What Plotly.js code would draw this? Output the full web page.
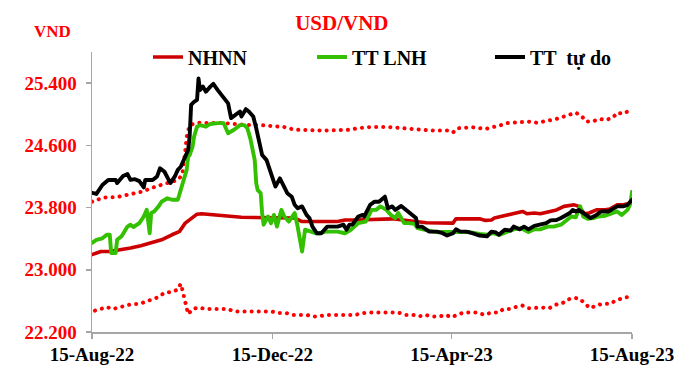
<!DOCTYPE html>
<html>
<head>
<meta charset="utf-8">
<script src="https://cdn.plot.ly/plotly-3.0.1.min.js"></script>
<style>
  html, body { margin: 0; padding: 0; background: #fff; }
  #chart { width: 692px; height: 380px; }
  .scatterlayer .js-line { stroke-linecap: round; stroke-linejoin: round; }
</style>
</head>
<body>
<div id="chart"></div>
<script>
// ---- Data ----
const nhnnDates = ["2022-08-15","2022-08-21","2022-08-27","2022-09-03","2022-09-10","2022-09-17","2022-09-24","2022-10-01","2022-10-08","2022-10-13","2022-10-17","2022-10-21","2022-10-25","2022-10-28","2022-11-08","2022-11-17","2022-11-24","2022-12-30","2023-01-04","2023-01-28","2023-02-02","2023-02-09","2023-03-06","2023-03-29","2023-04-16","2023-04-18","2023-05-04","2023-05-08","2023-05-12","2023-05-14","2023-05-18","2023-05-23","2023-05-27","2023-06-02","2023-06-05","2023-06-10","2023-06-14","2023-06-20","2023-06-25","2023-06-30","2023-07-07","2023-07-10","2023-07-14","2023-07-17","2023-07-22","2023-07-28","2023-07-31","2023-08-05","2023-08-09","2023-08-14","2023-08-15"];
const nhnnValues = [23195,23235,23235,23255,23280,23310,23345,23385,23450,23490,23600,23665,23715,23720,23705,23685,23675,23665,23620,23620,23640,23640,23655,23605,23600,23655,23655,23635,23640,23665,23685,23705,23720,23750,23720,23730,23720,23750,23770,23815,23835,23815,23720,23730,23770,23770,23780,23835,23835,23855,23875];

const lnhDates = ["2022-08-15","2022-08-18","2022-08-22","2022-08-25","2022-08-27","2022-08-28","2022-08-31","2022-09-01","2022-09-04","2022-09-08","2022-09-10","2022-09-12","2022-09-16","2022-09-19","2022-09-21","2022-09-23","2022-09-24","2022-09-26","2022-09-29","2022-10-01","2022-10-05","2022-10-08","2022-10-12","2022-10-14","2022-10-16","2022-10-17","2022-10-18","2022-10-19","2022-10-20","2022-10-22","2022-10-23","2022-10-25","2022-10-27","2022-10-31","2022-11-03","2022-11-08","2022-11-12","2022-11-15","2022-11-19","2022-11-23","2022-11-26","2022-11-28","2022-11-30","2022-12-03","2022-12-04","2022-12-05","2022-12-07","2022-12-08","2022-12-09","2022-12-12","2022-12-14","2022-12-16","2022-12-18","2022-12-21","2022-12-23","2022-12-26","2022-12-30","2023-01-01","2023-01-04","2023-01-06","2023-01-09","2023-01-13","2023-01-16","2023-01-20","2023-01-24","2023-01-28","2023-02-02","2023-02-06","2023-02-11","2023-02-15","2023-02-16","2023-02-20","2023-02-23","2023-02-26","2023-03-02","2023-03-05","2023-03-08","2023-03-10","2023-03-14","2023-03-17","2023-03-21","2023-03-23","2023-03-26","2023-03-31","2023-04-05","2023-04-11","2023-04-16","2023-04-20","2023-04-27","2023-05-04","2023-05-09","2023-05-13","2023-05-17","2023-05-19","2023-05-23","2023-05-27","2023-06-01","2023-06-06","2023-06-10","2023-06-14","2023-06-19","2023-06-23","2023-06-28","2023-07-02","2023-07-05","2023-07-08","2023-07-11","2023-07-13","2023-07-16","2023-07-20","2023-07-23","2023-07-28","2023-08-01","2023-08-05","2023-08-08","2023-08-12","2023-08-14","2023-08-15"];
const lnhValues = [23345,23385,23405,23450,23450,23215,23215,23385,23430,23555,23580,23550,23600,23685,23770,23470,23730,23750,23815,23875,23920,23900,23900,24025,24135,24200,24285,24455,24475,24585,24710,24840,24860,24840,24875,24885,24885,24755,24800,24860,24860,24820,24690,24410,24115,24025,23985,23730,23580,23685,23600,23705,23555,23770,23685,23620,23730,23555,23235,23515,23490,23470,23470,23490,23490,23490,23470,23515,23600,23620,23620,23770,23770,23815,23770,23705,23665,23730,23600,23600,23590,23535,23520,23500,23485,23485,23485,23490,23485,23460,23450,23470,23450,23460,23490,23520,23535,23485,23520,23520,23555,23555,23580,23640,23685,23675,23815,23685,23655,23665,23685,23695,23720,23750,23705,23770,23855,24005];

const freeDates = ["2022-08-15","2022-08-18","2022-08-22","2022-08-26","2022-08-31","2022-09-01","2022-09-05","2022-09-08","2022-09-10","2022-09-13","2022-09-16","2022-09-19","2022-09-20","2022-09-25","2022-09-28","2022-09-30","2022-10-03","2022-10-05","2022-10-07","2022-10-10","2022-10-12","2022-10-14","2022-10-17","2022-10-19","2022-10-20","2022-10-21","2022-10-23","2022-10-25","2022-10-26","2022-10-27","2022-10-29","2022-10-31","2022-11-03","2022-11-05","2022-11-08","2022-11-11","2022-11-15","2022-11-17","2022-11-20","2022-11-23","2022-11-24","2022-11-27","2022-11-29","2022-12-02","2022-12-04","2022-12-06","2022-12-08","2022-12-11","2022-12-13","2022-12-15","2022-12-17","2022-12-20","2022-12-23","2022-12-25","2022-12-28","2022-12-30","2023-01-01","2023-01-04","2023-01-07","2023-01-09","2023-01-11","2023-01-14","2023-01-17","2023-01-21","2023-01-24","2023-01-28","2023-02-01","2023-02-03","2023-02-05","2023-02-07","2023-02-11","2023-02-14","2023-02-15","2023-02-19","2023-02-22","2023-02-25","2023-03-01","2023-03-03","2023-03-06","2023-03-08","2023-03-12","2023-03-15","2023-03-18","2023-03-22","2023-03-23","2023-03-26","2023-03-31","2023-04-05","2023-04-09","2023-04-12","2023-04-16","2023-04-18","2023-04-21","2023-04-25","2023-04-29","2023-05-04","2023-05-09","2023-05-12","2023-05-15","2023-05-17","2023-05-21","2023-05-25","2023-05-27","2023-05-31","2023-06-03","2023-06-06","2023-06-10","2023-06-14","2023-06-18","2023-06-21","2023-06-25","2023-06-28","2023-07-02","2023-07-04","2023-07-06","2023-07-08","2023-07-10","2023-07-13","2023-07-16","2023-07-18","2023-07-22","2023-07-25","2023-07-30","2023-08-02","2023-08-05","2023-08-09","2023-08-12","2023-08-15"];
const freeValues = [23990,23975,24090,24155,24155,24115,24205,24230,24155,24165,24140,24060,24155,24155,24200,24305,24260,24175,24115,24200,24285,24325,24455,24540,24710,25120,25160,25185,25460,25310,25355,25290,25355,25390,25310,25245,25140,24950,24990,25035,24970,25065,25035,24970,24820,24670,24475,24410,24305,24200,24070,24175,24070,23985,23940,23835,23790,23815,23705,23665,23555,23470,23470,23555,23555,23555,23580,23515,23580,23580,23685,23705,23685,23835,23875,23875,23940,23790,23815,23770,23820,23770,23730,23665,23555,23555,23490,23490,23470,23440,23470,23520,23490,23490,23470,23440,23430,23490,23480,23450,23515,23505,23555,23520,23555,23520,23565,23580,23600,23635,23640,23665,23705,23730,23770,23750,23770,23730,23685,23665,23705,23750,23750,23790,23815,23815,23835,23900];

const upperDates = ["2022-08-15","2022-08-23","2022-09-01","2022-09-09","2022-09-18","2022-09-27","2022-10-05","2022-10-12","2022-10-15","2022-10-16","2022-10-17","2022-10-18","2022-10-20","2022-10-25","2022-11-03","2022-11-13","2022-11-28","2022-12-07","2022-12-23","2022-12-30","2023-01-20","2023-01-31","2023-02-05","2023-02-11","2023-02-19","2023-03-04","2023-03-14","2023-03-23","2023-04-02","2023-04-12","2023-04-16","2023-04-19","2023-04-24","2023-04-28","2023-05-04","2023-05-08","2023-05-13","2023-05-17","2023-05-22","2023-05-26","2023-05-31","2023-06-06","2023-06-12","2023-06-17","2023-06-21","2023-06-25","2023-06-30","2023-07-04","2023-07-08","2023-07-12","2023-07-15","2023-07-19","2023-07-24","2023-07-28","2023-08-02","2023-08-05","2023-08-09","2023-08-13"];
const upperValues = [23875,23930,23935,23970,24005,24070,24115,24155,24220,24350,24520,24710,24860,24890,24890,24885,24860,24860,24835,24800,24790,24790,24800,24820,24835,24835,24825,24805,24790,24790,24765,24820,24825,24835,24820,24810,24835,24850,24885,24890,24905,24905,24890,24905,24915,24940,24970,25000,25020,24975,24905,24905,24940,24925,24955,25020,25005,25045];

const lowerDates = ["2022-08-17","2022-08-22","2022-08-25","2022-08-29","2022-09-03","2022-09-07","2022-09-11","2022-09-16","2022-09-21","2022-09-24","2022-09-29","2022-10-03","2022-10-08","2022-10-12","2022-10-14","2022-10-15","2022-10-16","2022-10-17","2022-10-18","2022-10-19","2022-10-22","2022-10-26","2022-10-31","2022-11-15","2022-11-19","2022-12-14","2022-12-19","2022-12-24","2022-12-29","2023-01-07","2023-01-11","2023-01-15","2023-01-20","2023-02-09","2023-02-13","2023-02-18","2023-03-10","2023-03-15","2023-03-20","2023-03-24","2023-03-28","2023-04-02","2023-04-07","2023-04-11","2023-04-15","2023-04-18","2023-04-23","2023-05-03","2023-05-07","2023-05-12","2023-05-17","2023-05-20","2023-05-24","2023-05-29","2023-06-02","2023-06-06","2023-06-10","2023-06-15","2023-06-20","2023-06-24","2023-06-29","2023-07-02","2023-07-07","2023-07-11","2023-07-14","2023-07-18","2023-07-22","2023-07-27","2023-07-31","2023-08-04","2023-08-08","2023-08-12"];
const lowerValues = [22475,22510,22520,22495,22520,22545,22560,22560,22595,22620,22650,22705,22715,22745,22820,22750,22655,22560,22460,22430,22495,22515,22495,22495,22465,22465,22445,22445,22420,22420,22400,22400,22420,22420,22440,22450,22450,22420,22420,22400,22420,22400,22400,22420,22390,22415,22450,22450,22420,22450,22450,22495,22495,22525,22540,22505,22515,22515,22505,22550,22570,22615,22640,22625,22565,22505,22545,22565,22560,22605,22630,22650];

const yTickVals = [22200, 23000, 23800, 24600, 25400];
const yTickText = ["22.200", "23.000", "23.800", "24.600", "25.400"];
const xTickVals = ["2022-08-15", "2022-12-15", "2023-04-15", "2023-08-15"];
const xTickText = ["15-Aug-22", "15-Dec-22", "15-Apr-23", "15-Aug-23"];

// ---- Styles ----
const FONT = "'Liberation Serif', 'Times New Roman', serif";
const AXIS_GREY = "#a6a6a6";
const bandStyle = { color: "#ff0000", width: 4, dash: "0.1px,7px" };

const traces = [
  { x: upperDates, y: upperValues, type: "scatter", mode: "lines", line: bandStyle, showlegend: false, hoverinfo: "skip" },
  { x: lowerDates, y: lowerValues, type: "scatter", mode: "lines", line: bandStyle, showlegend: false, hoverinfo: "skip" },
  { x: nhnnDates, y: nhnnValues, type: "scatter", mode: "lines", name: "NHNN", legendwidth: 119,
    line: { color: "#cc0000", width: 3.6 } },
  { x: lnhDates, y: lnhValues, type: "scatter", mode: "lines", name: "TT LNH", legendwidth: 133,
    line: { color: "#33c000", width: 3.9 } },
  { x: freeDates, y: freeValues, type: "scatter", mode: "lines", name: "TT  tự do", legendwidth: 90,
    line: { color: "#000000", width: 3.9 } }
];

const layout = {
  width: 692, height: 380,
  paper_bgcolor: "#ffffff", plot_bgcolor: "#ffffff",
  margin: { l: 92, r: 60, t: 52, b: 48 },
  font: { family: FONT, size: 19, color: "#000" },
  title: {
    text: "USD/VND", xref: "container", yref: "container",
    x: 0.494, y: 1 - 23 / 380, xanchor: "center", yanchor: "middle",
    font: { family: FONT, size: 21, color: "#ff0000", weight: "bold" }
  },
  showlegend: true,
  legend: {
    orientation: "h", xref: "paper", yref: "paper",
    x: (148 - 92) / 540, xanchor: "left", y: (332 - 57) / 280, yanchor: "middle",
    bgcolor: "rgba(0,0,0,0)", borderwidth: 0,
    font: { family: FONT, size: 20, color: "#000", weight: "bold" },
    traceorder: "normal"
  },
  xaxis: {
    type: "date", range: ["2022-08-15", "2023-08-15"],
    tickvals: xTickVals, ticktext: xTickText,
    showgrid: false, zeroline: false,
    showline: true, linecolor: AXIS_GREY, linewidth: 1.5,
    ticks: "outside", ticklen: 5, tickcolor: AXIS_GREY, tickwidth: 1.5,
    tickfont: { family: FONT, size: 19, color: "#000", weight: "bold" }
  },
  yaxis: {
    range: [22200, 25800],
    tickvals: yTickVals, ticktext: yTickText,
    showgrid: false, zeroline: false,
    showline: true, linecolor: AXIS_GREY, linewidth: 1.5,
    ticks: "outside", ticklen: 5, tickcolor: AXIS_GREY, tickwidth: 1.5,
    ticklabelstandoff: 5,
    tickfont: { family: FONT, size: 19, color: "#ff0000", weight: "bold" }
  },
  annotations: [
    { text: "VND", xref: "paper", yref: "paper", x: (52 - 92) / 540, y: (332 - 31) / 280,
      xanchor: "center", yanchor: "middle", showarrow: false,
      font: { family: FONT, size: 17, color: "#ff0000", weight: "bold" } }
  ]
};

Plotly.newPlot("chart", traces, layout, { staticPlot: true, displayModeBar: false });
</script>
</body>
</html>
